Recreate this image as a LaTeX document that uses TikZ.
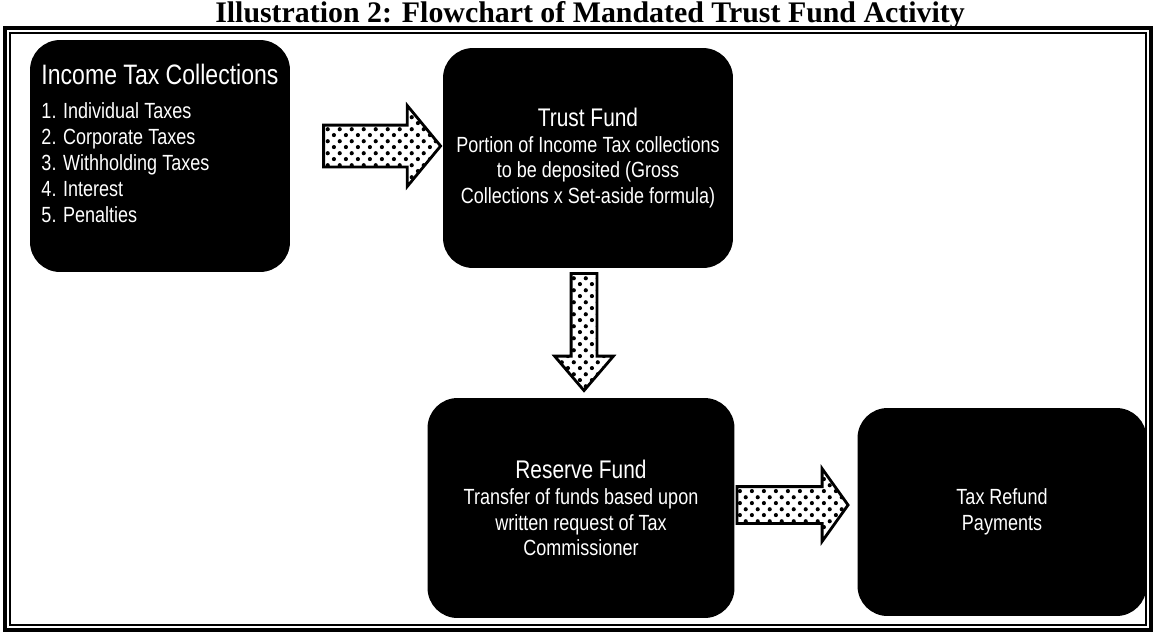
\documentclass[tikz,border=0pt]{standalone}
\usepackage{fontspec}
\setmainfont{Liberation Serif}
\newfontfamily\narrowsans{Liberation Sans}[FakeStretch=0.82]
\usetikzlibrary{shapes.arrows,patterns.meta,calc}
\tikzdeclarepattern{name=heartdots, type=uncolored, bounding box={(0pt,0pt) and (7pt,7pt)}, tile size={(7pt,7pt)},
  code={\fill (1.75pt,1.75pt) circle (1.25pt); \fill (5.25pt,5.25pt) circle (1.25pt);}}

\begin{document}
\begin{tikzpicture}[x=0.02cm, y=-0.02cm, every node/.style={font=\narrowsans\fontsize{12.5}{14.7}\selectfont}]
\tikzstyle{fund}=[fill=black, text=white, rounded corners=0.6cm, align=center, inner sep=4pt]
\tikzstyle{flow}=[single arrow, draw, line width=1.6pt, pattern=heartdots, inner xsep=0pt, single arrow head indent=0pt]
\useasboundingbox (0,0) rectangle (1155,640);
% double frame
\draw[line width=2pt] (5,28) rectangle (1151,630);
\draw[line width=0.6pt] (10,33) rectangle (1146,625);
\node[font=\rmfamily\bfseries\fontsize{17}{20}\selectfont, anchor=base] (title) at (590,22) {Illustration 2: Flowchart of Mandated Trust Fund Activity};
% funds
\node[fund, align=left, minimum width=5.2cm, minimum height=4.64cm] (income) at (160,156) {{\fontsize{16}{20}\selectfont Income Tax Collections}\\[5pt] 1. Individual Taxes\\ 2. Corporate Taxes\\ 3. Withholding Taxes\\ 4. Interest\\ 5. Penalties\\ \mbox{}};
\node[fund, minimum width=5.8cm, minimum height=4.4cm] (trust) at (588,158) {{\fontsize{14.5}{18}\selectfont Trust Fund}\\ Portion of Income Tax collections\\ to be deposited (Gross\\ Collections x Set-aside formula)};
\node[fund, minimum width=6.14cm, minimum height=4.4cm] (reserve) at (581,508) {{\fontsize{14.5}{18}\selectfont Reserve Fund}\\ Transfer of funds based upon\\ written request of Tax\\ Commissioner};
\node[fund, minimum width=5.78cm, minimum height=4.16cm] (refund) at (1002,512) {Tax Refund\\ Payments};
% block arrows
\node[flow, minimum height=2.34cm, inner ysep=0.39cm, single arrow head extend=0.39cm, single arrow tip angle=101] (flowA) at (373.5,146) {};
\node[flow, rotate=-90, minimum height=2.34cm, inner ysep=0.23cm, single arrow head extend=0.33cm, single arrow tip angle=81] (flowB) at (584,324.5) {};
\node[flow, minimum height=2.22cm, inner ysep=0.34cm, single arrow head extend=0.36cm, single arrow tip angle=109] (flowC) at (786,505) {};
\end{tikzpicture}
\end{document}
